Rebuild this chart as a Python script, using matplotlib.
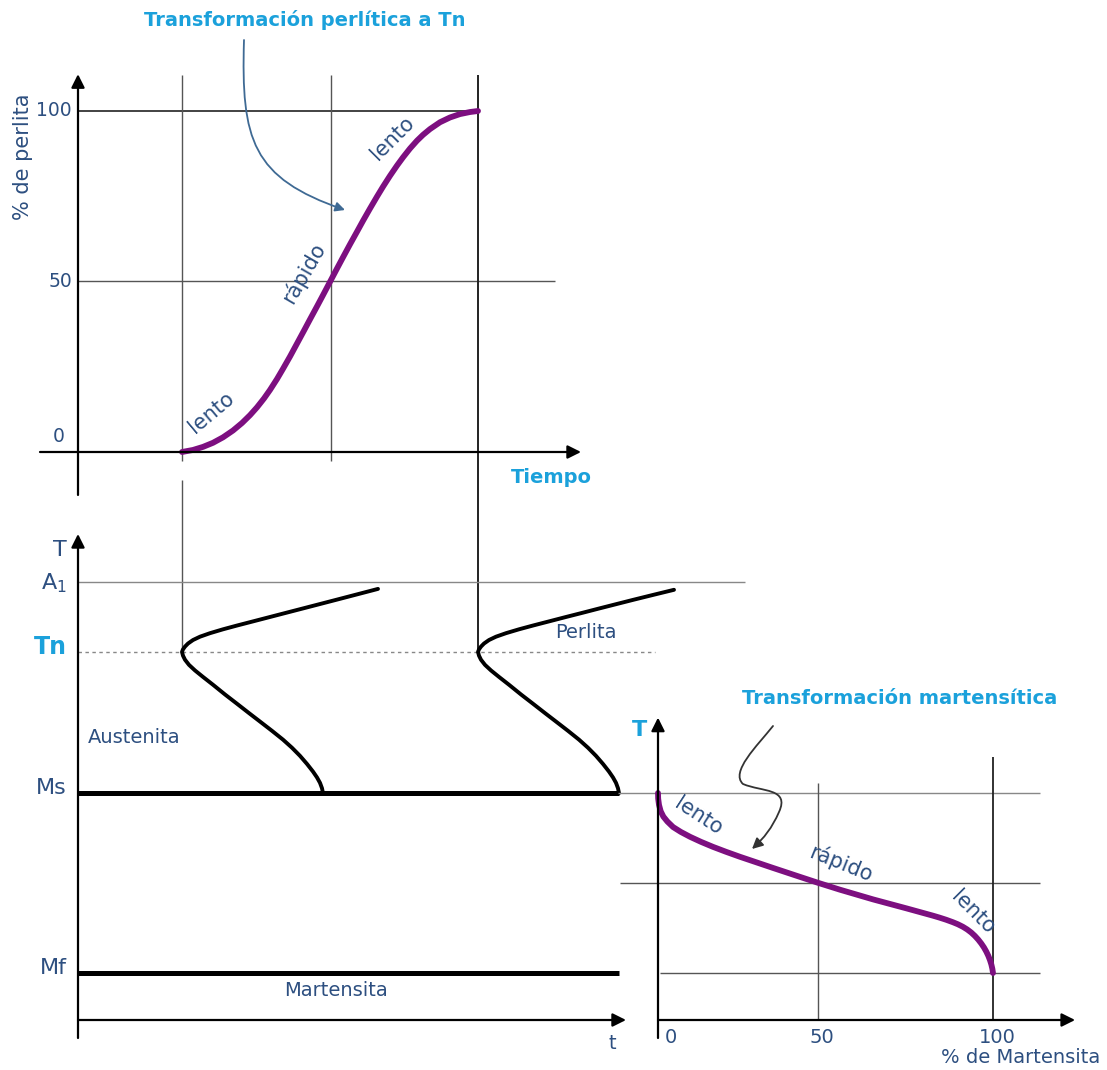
import matplotlib.pyplot as plt
import numpy as np
from matplotlib.path import Path
from matplotlib.patches import FancyArrowPatch
from matplotlib.transforms import Affine2D

#%% datos leidos del esquema

# transformacion perlitica a Tn: tiempo (u.a.) vs % de perlita
t_perl = [1.04, 1.15, 1.25, 1.35, 1.45, 1.55, 1.64, 1.72, 1.79, 1.86,
          1.92, 1.99, 2.05, 2.12, 2.19, 2.26, 2.32, 2.39, 2.45, 2.52,
          2.59, 2.65, 2.72, 2.79, 2.85, 2.92, 2.99, 3.05, 3.12, 3.19,
          3.25, 3.32, 3.39, 3.45, 3.52, 3.62, 3.72, 3.82, 3.92, 4.00]
p_perl = [0.0, 0.6, 1.5, 2.7, 4.3, 6.3, 8.5, 10.8, 13.1, 15.7,
          18.2, 21.4, 24.4, 28.0, 31.8, 35.6, 38.9, 42.7, 46.0, 49.9,
          53.8, 57.1, 60.9, 64.6, 67.8, 71.4, 74.9, 77.8, 81.0, 84.0,
          86.4, 89.0, 91.3, 93.0, 94.7, 96.7, 98.1, 99.1, 99.7, 100.0]
t_grid = [1.04, 2.53, 4.00]      # inicio, 50 %, fin
p_ticks = [0, 50, 100]

# diagrama TTT: curva de inicio y de fin de la transformacion
t_ini = [3.00, 2.79, 2.59, 2.42, 2.25, 2.09, 1.92, 1.75, 1.59, 1.45,
         1.32, 1.22, 1.15, 1.10, 1.07, 1.05, 1.04,
         1.05, 1.07, 1.11, 1.17, 1.25, 1.35, 1.47, 1.59, 1.71, 1.82,
         1.94, 2.05, 2.14, 2.22, 2.29, 2.35, 2.39, 2.42, 2.44, 2.45]
T_ini = [479.0, 472.9, 467.1, 462.2, 457.3, 452.7, 447.8, 442.9, 438.3, 434.1,
         429.8, 425.9, 422.2, 418.3, 414.9, 411.8, 409.0,
         404.8, 400.3, 394.6, 388.4, 381.2, 372.5, 361.7, 351.4, 341.0, 331.6,
         321.3, 311.5, 302.5, 293.5, 284.5, 276.0, 269.5, 263.5, 257.5, 252.0]
t_fin = [5.96, 5.75, 5.55, 5.38, 5.21, 5.05, 4.88, 4.71, 4.55, 4.41,
         4.28, 4.18, 4.11, 4.06, 4.03, 4.01, 4.00,
         4.01, 4.03, 4.07, 4.13, 4.21, 4.31, 4.43, 4.55, 4.67, 4.78,
         4.90, 5.01, 5.10, 5.18, 5.25, 5.31, 5.35, 5.38, 5.40, 5.41]
T_fin = [478.0, 472.3, 466.8, 462.0, 457.2, 452.6, 447.8, 442.9, 438.3, 434.1,
         429.8, 425.9, 422.2, 418.3, 414.9, 411.8, 409.0,
         404.8, 400.3, 394.6, 388.4, 381.2, 372.5, 361.7, 351.4, 341.0, 331.6,
         321.3, 311.5, 302.5, 293.5, 284.5, 276.0, 269.5, 263.5, 257.5, 252.0]
A1, Tn, Ms, Mf = 487, 409, 252, 52

# transformacion martensitica: % de martensita vs T
m_pct = [0.0, 0.05, 0.3, 0.8, 1.6, 2.8, 4.5, 6.8, 9.6, 12.8,
         16.4, 20.3, 24.5, 34.3, 42.4, 47.8, 54.3, 64.2, 74.3, 82.1,
         84.0, 86.0, 88.0, 89.5, 91.0, 92.3, 93.5, 94.6, 95.6, 96.5,
         97.3, 98.0, 98.6, 99.1, 99.5, 99.8, 100.0]
m_T = [252.2, 246.0, 239.0, 232.0, 226.0, 220.5, 214.4, 209.0, 203.5, 198.0,
       192.4, 186.9, 181.3, 169.0, 159.0, 152.4, 144.8, 134.0, 123.9, 115.9,
       113.8, 111.4, 108.7, 106.4, 103.6, 100.6, 97.2, 93.4, 89.3, 85.0,
       80.6, 76.0, 71.3, 66.5, 61.8, 57.0, 52.2]
m_grid = [0, 47.8, 100]
m_ticks = ['0', '50', '100']
T_mid = 152

#%% estilo

W, H = 1107, 1070
morado = '#7d0f80'
azul = '#2d4f80'
celeste = '#1ba1db'
gris = '#555555'

fig = plt.figure(figsize=(W/100, H/100), dpi=100)
pix = Affine2D().scale(1, -1).translate(0, H)   # pixeles con y hacia abajo


def panel(px0, px1, py0, py1, xlim, ylim):
    ax = fig.add_axes([px0/W, 1-py0/H, (px1-px0)/W, (py0-py1)/H])
    ax.set_xlim(xlim)
    ax.set_ylim(ylim)
    ax.axis('off')
    return ax


def flecha(ax, x0, y0, x1, y1, lw=1.6, ms=20, color='black'):
    ax.annotate('', xy=(x1, y1), xytext=(x0, y0), annotation_clip=False,
                arrowprops=dict(arrowstyle='-|>', color=color, lw=lw,
                                mutation_scale=ms, shrinkA=0, shrinkB=0))


def flecha_curva(puntos, color, ms):
    codes = [Path.MOVETO] + [Path.CURVE4]*(len(puntos)-1)
    fa = FancyArrowPatch(path=Path(puntos, codes), arrowstyle='-|>',
                         color=color, lw=1.3, mutation_scale=ms,
                         transform=pix)
    fig.add_artist(fa)


def linea(ax, x, y, **kw):
    kw.setdefault('color', gris)
    kw.setdefault('lw', 1.0)
    ax.plot(x, y, clip_on=False, solid_capstyle='butt', **kw)


def curva(ax, x, y, color, lw):
    ax.plot(x, y, color=color, lw=lw, clip_on=False,
            solid_capstyle='round', solid_joinstyle='round')


#%% panel superior: % de perlita

ax1 = panel(78, 578, 452, 111, (0, 5), (0, 100))
flecha(ax1, 0, -12.6, 0, 110.8)
flecha(ax1, -0.38, 0, 5.03, 0)
linea(ax1, [0, t_grid[2]], [100, 100], color='#222222', lw=1.2)
linea(ax1, [0, 4.77], [50, 50])
linea(ax1, [t_grid[0]]*2, [-2.5, 110.6])
linea(ax1, [t_grid[1]]*2, [-2.5, 110.6])
linea(ax1, [t_grid[2]]*2, [-58.7, 110.6], color='#222222', lw=1.4)
curva(ax1, t_perl, p_perl, morado, 4.2)

ax1.text(-0.06, 100, '100', ha='right', va='center', fontsize=13.5, color=azul)
ax1.text(-0.06, 50, '50', ha='right', va='center', fontsize=13.5, color=azul)
ax1.text(-0.13, 4.4, '0', ha='right', va='center', fontsize=13.5, color=azul)
ax1.text(-0.55, 86.5, '% de perlita', rotation=90, ha='center', va='center',
         fontsize=15, color=azul)
ax1.text(4.73, -7.6, 'Tiempo', ha='center', va='center', fontsize=14,
         fontweight='bold', color=celeste)
ax1.text(1.33, 11.5, 'lento', rotation=40, rotation_mode='anchor',
         ha='center', va='center', fontsize=15, color=azul)
ax1.text(2.25, 52.5, 'rápido', rotation=60, rotation_mode='anchor',
         ha='center', va='center', fontsize=15, color=azul)
ax1.text(3.14, 92, 'lento', rotation=45, rotation_mode='anchor',
         ha='center', va='center', fontsize=15, color=azul)
flecha_curva([(244, 40), (241, 140), (252, 178), (345, 210)], '#3f6a94', 14)
fig.text(305/W, 1-20/H, 'Transformación perlítica a Tn', ha='center',
         va='center', fontsize=14, fontweight='bold', color=celeste)

#%% panel inferior izquierdo: diagrama TTT

ax2 = panel(78, 578, 1020, 570, (0, 5), (0, 500))
flecha(ax2, 0, -20, 0, 540)
flecha(ax2, 0, 0, 5.48, 0)
linea(ax2, [t_grid[0]]*2, [600, Tn])
linea(ax2, [0, 6.67], [A1, A1], color='#888888')
linea(ax2, [0, 5.77], [Tn, Tn], color='#888888', ls=(0, (2.5, 2.5)))
linea(ax2, [0, 5.41], [Ms, Ms], color='black', lw=3.6)
linea(ax2, [0, 5.41], [Mf, Mf], color='black', lw=3.6)
curva(ax2, t_ini, T_ini, 'black', 2.8)
curva(ax2, t_fin, T_fin, 'black', 2.8)

ax2.text(-0.18, 522, 'T', ha='center', va='center', fontsize=16, color=azul)
ax2.text(-0.11, 485, 'A$_1$', ha='right', va='center', fontsize=16, color=azul)
ax2.text(-0.11, 414, 'Tn', ha='right', va='center', fontsize=17,
         fontweight='bold', color=celeste)
ax2.text(-0.11, 258, 'Ms', ha='right', va='center', fontsize=16, color=azul)
ax2.text(-0.11, 58, 'Mf', ha='right', va='center', fontsize=16, color=azul)
ax2.text(0.10, 314, 'Austenita', ha='left', va='center', fontsize=14,
         color=azul)
ax2.text(4.77, 430, 'Perlita', ha='left', va='center', fontsize=14,
         color=azul)
ax2.text(2.06, 33, 'Martensita', ha='left', va='center', fontsize=14,
         color=azul)
ax2.text(5.34, -26, 't', ha='center', va='center', fontsize=14, color=azul)

#%% panel inferior derecho: transformacion martensitica

ax3 = panel(658, 993, 1020, 570, (0, 100), (0, 500))
flecha(ax3, 0, -20, 0, 336)
flecha(ax3, 0, 0, 124.5, 0)
linea(ax3, [-11.9, 114], [Ms, Ms], color='#888888')
linea(ax3, [-11.3, 114], [T_mid, T_mid])
linea(ax3, [0.6, 114], [Mf, Mf])
linea(ax3, [m_grid[1]]*2, [0, 263])
linea(ax3, [m_grid[2]]*2, [0, 292], color='#222222', lw=1.3)
curva(ax3, m_pct, m_T, morado, 4.2)

ax3.text(-5.4, 322, 'T', ha='center', va='center', fontsize=16,
         fontweight='bold', color=celeste)
for m, lab in zip(m_grid, m_ticks):
    ax3.text(m + (3.9 if m == 0 else 1.2), -19, lab, ha='center',
             va='center', fontsize=14, color=azul)
ax3.text(132, -42, '% de Martensita', ha='right', va='center', fontsize=14,
         color=azul)
ax3.text(12, 226, 'lento', rotation=-33, rotation_mode='anchor',
         ha='center', va='center', fontsize=15, color=azul)
ax3.text(54.5, 174, 'rápido', rotation=-22, rotation_mode='anchor',
         ha='center', va='center', fontsize=15, color=azul)
ax3.text(94, 119, 'lento', rotation=-45, rotation_mode='anchor',
         ha='center', va='center', fontsize=15, color=azul)

# flecha en zigzag hacia la curva martensitica
flecha_curva([(773, 726), (757, 746), (730, 772), (743, 784),
              (762, 792), (790, 788), (779, 812),
              (772, 828), (764, 838), (752, 849)], '#333333', 16)
fig.text(900/W, 1-698/H, 'Transformación martensítica', ha='center',
         va='center', fontsize=14, fontweight='bold', color=celeste)

plt.savefig('out.png', dpi=100)
